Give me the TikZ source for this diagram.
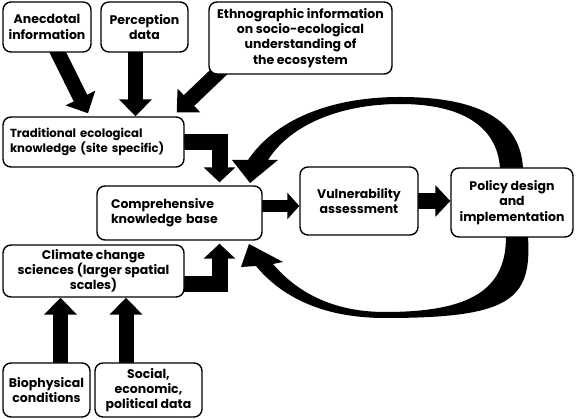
\documentclass[tikz,border=0pt]{standalone}
\usepackage{fontspec}
\setmainfont{Poppins}
\usetikzlibrary{arrows.meta,positioning,backgrounds}

\begin{document}
\begin{tikzpicture}[x=1pt,y=-1pt
		,every node/.append style={font=\bfseries\fontsize{12.5}{15.2}\selectfont}
		,box/.style={draw, fill=white, line width=1.4pt, rounded corners=8pt, align=center, inner sep=0pt}
		,blk/.style={line width=15pt, -{Triangle[length=17pt,width=32pt]}}
		,elb/.style={line width=16pt, line join=miter, -{Triangle[length=15pt,width=31pt]}}
		,thin/.style={line width=12pt, -{Triangle[length=12pt,width=26pt]}}
	]
	\useasboundingbox (0,0) rectangle (576,419);

	% sources
	\node [box, minimum width=88pt, minimum height=50pt] (anec) at (47,27) {Anecdotal\\information};
	\node [box, minimum width=87pt, minimum height=50pt] (perc) at (144.5,27) {Perception\\data};
	\node [box, minimum width=183pt, minimum height=72pt] (ethno) at (300.5,38) {Ethnographic information\\on socio-ecological\\understanding of\\the ecosystem};
	\node [box, minimum width=181pt, minimum height=50pt, align=left, text width=167pt, font=\bfseries\fontsize{11.7}{15.2}\selectfont] (tek) at (93.5,142) {Traditional ecological\\knowledge (site specific)};
	\node [box, minimum width=165pt, minimum height=54pt, align=left, text width=137pt] (comp) at (179.5,213) {Comprehensive\\knowledge base};
	\node [box, minimum width=118pt, minimum height=68pt] (vuln) at (359,201) {Vulnerability\\assessment};
	\node [box, minimum width=122pt, minimum height=69pt] (policy) at (512,202.5) {Policy design\\and\\implementation};
	\node [box, minimum width=181pt, minimum height=52pt] (clim) at (93.5,271) {Climate change\\sciences (larger spatial\\scales)};
	\node [box, minimum width=87pt, minimum height=54pt] (bio) at (46.5,390) {Biophysical\\conditions};
	\node [box, minimum width=107pt, minimum height=54pt] (soc) at (148.5,390) {Social,\\economic,\\political data};

	\begin{scope}[on background layer]
		\draw [blk] ([xshift=8pt,yshift=6pt]anec.south) -- ([xshift=-5.5pt,yshift=3pt]tek.north);
		\draw [blk] ([xshift=-9pt,yshift=6pt]perc.south) -- ([xshift=-9pt]perc.south |- tek.north);
		\draw [blk] ([xshift=14pt,yshift=6pt]ethno.south west) -- ([xshift=-8pt,yshift=4pt]tek.north east);
		\draw [elb] ([xshift=-6pt]tek.east) -| ([xshift=40pt,yshift=3pt]comp.north);
		\draw [elb] ([xshift=-6pt,yshift=-13pt]clim.east) -| ([xshift=40pt,yshift=-3pt]comp.south);
		\draw [thin] ([xshift=-6pt,yshift=7pt]comp.east) -- ([yshift=-5pt]vuln.west);
		\draw [elb] ([xshift=-6pt]vuln.east) -- (vuln.east -| policy.west);
		\draw [blk] ([xshift=14pt,yshift=-6pt]bio.north) -- ([xshift=14pt]bio.north |- clim.south);
		\draw [blk] ([xshift=-22.5pt,yshift=-6pt]soc.north) -- ([xshift=-22.5pt]soc.north |- clim.south);
		% feedback loops
		\fill (523,168) .. controls (520,115) and (470,97) .. (400,97)
			.. controls (330,97) and (275,120) .. (248,160)
			-- (232,160) -- (250,183) -- (278,160) -- (268,160)
			.. controls (290,125) and (340,104) .. (400,104)
			.. controls (460,104) and (497,125) .. (500,168) -- cycle;
		\fill (528,237) .. controls (532,300) and (510,318) .. (385,318)
			.. controls (320,318) and (280,295) .. (256,266)
			-- (241,267) -- (249,244) -- (283,262) -- (273,264)
			.. controls (295,290) and (330,312) .. (385,312)
			.. controls (470,312) and (506,290) .. (506,237) -- cycle;
	\end{scope}
\end{tikzpicture}
\end{document}
